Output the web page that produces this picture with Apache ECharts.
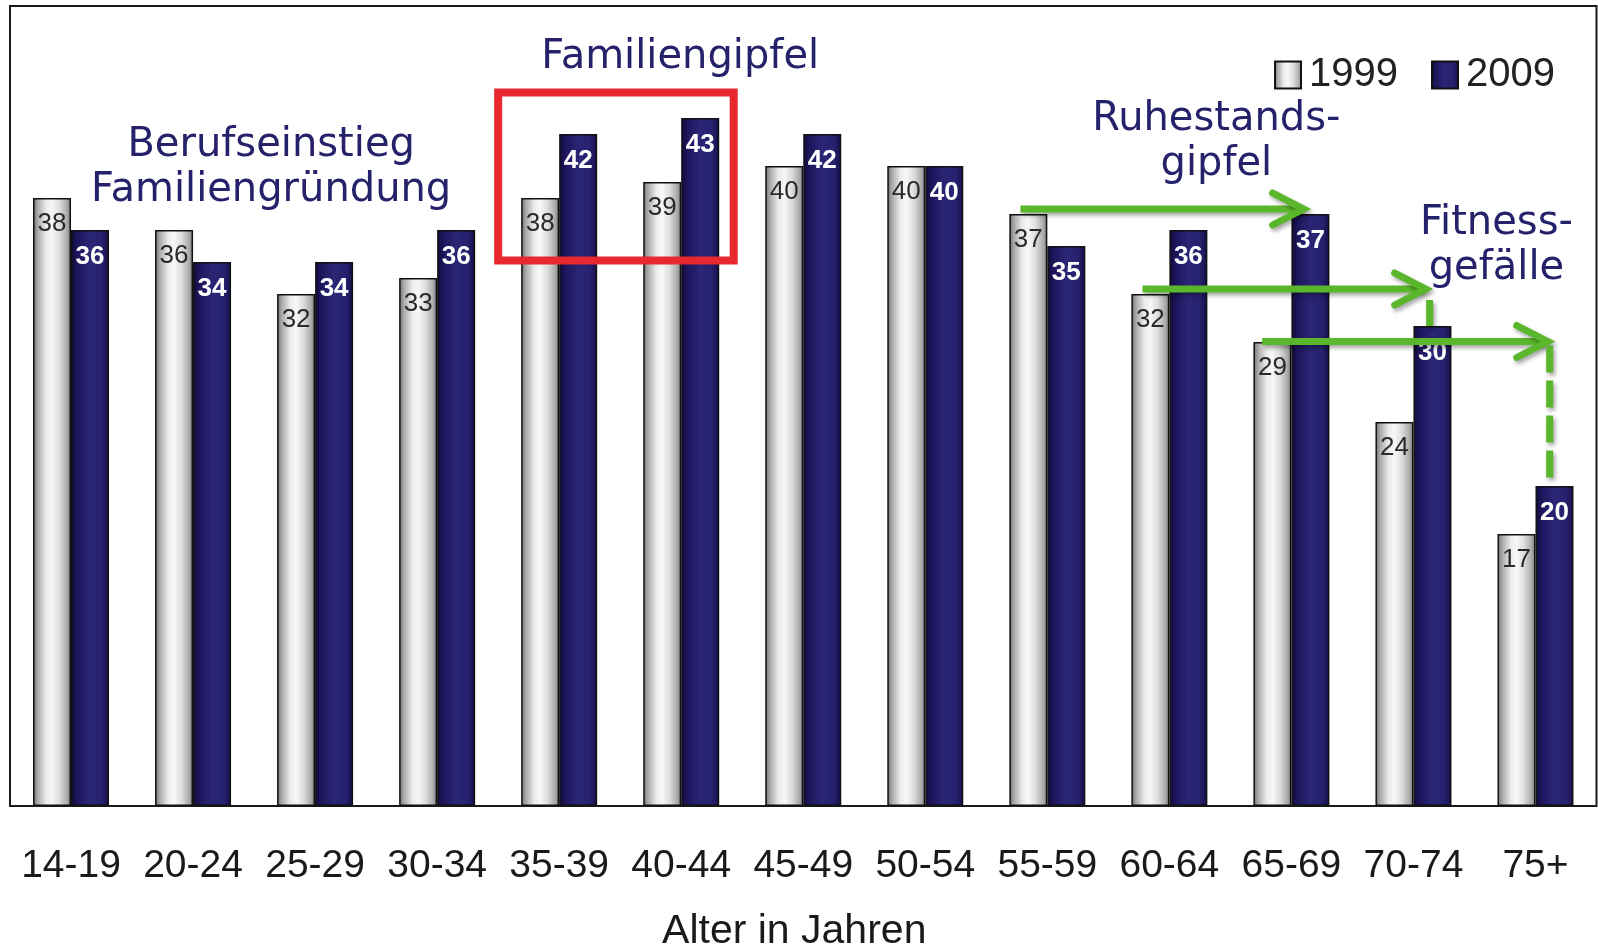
<!DOCTYPE html>
<html>
<head>
<meta charset="utf-8">
<script src="https://cdn.jsdelivr.net/npm/echarts@6/dist/echarts.min.js"></script>
<style>
html,body{margin:0;padding:0;background:#fff;}
#c{width:1598px;height:947px;}
</style>
</head>
<body>
<div id="c"></div>
<script>
const categories = ['14-19','20-24','25-29','30-34','35-39','40-44','45-49','50-54','55-59','60-64','65-69','70-74','75+'];
const values1999 = [38,36,32,33,38,39,40,40,37,32,29,24,17];
const values2009 = [36,34,34,36,42,43,42,40,35,36,37,30,20];
const seriesNames = ['1999','2009'];
const axisTitle = 'Alter in Jahren';
const noteTexts = {
  beruf: 'Berufseinstieg\nFamiliengründung',
  familie: 'Familiengipfel',
  ruhe: 'Ruhestands-\ngipfel',
  fitness: 'Fitness-\ngefälle'
};

const grayFill = {type:'linear',x:0,y:0,x2:1,y2:0,colorStops:[
  {offset:0,color:'#6e6e6e'},{offset:0.12,color:'#a8a8a8'},{offset:0.35,color:'#ececec'},
  {offset:0.5,color:'#f7f7f7'},{offset:0.7,color:'#dcdcdc'},{offset:0.9,color:'#a9a9a9'},{offset:1,color:'#7a7a7a'}]};
const blueFill = {type:'linear',x:0,y:0,x2:1,y2:0,colorStops:[
  {offset:0,color:'#120a40'},{offset:0.2,color:'#1f1860'},{offset:0.5,color:'#2a2575'},
  {offset:0.8,color:'#27226f'},{offset:1,color:'#150e4a'}]};

const chart = echarts.init(document.getElementById('c'), null, {renderer:'canvas'});
const FONT = '"Liberation Sans", Arial, sans-serif';
const NOTE_FONT = '"DejaVu Sans", sans-serif';
const NAVY = '#25216a';
const GREEN = '#5ab72b';

chart.setOption({
  animation:false,
  backgroundColor:'#fff',
  grid:{left:10,right:1.5,top:6,bottom:141,show:true,borderColor:'#1a1a1a',borderWidth:2,
        backgroundColor:'transparent',containLabel:false,outerBoundsMode:'none'},
  legend:{
    right:38, top:50, itemWidth:26, itemHeight:27, itemGap:33, icon:'rect',
    textStyle:{fontFamily:FONT,fontSize:40,color:'#222',padding:[0,0,0,3]},
    data:seriesNames
  },
  xAxis:{
    type:'category', data:categories,
    axisLine:{show:false}, axisTick:{show:false},
    axisLabel:{fontFamily:FONT,fontSize:39,color:'#1a1a1a',margin:41,interval:0},
    name:axisTitle, nameLocation:'middle', nameGap:105,
    nameTextStyle:{fontFamily:FONT,fontSize:41,color:'#1a1a1a',padding:[0,18,0,0]}
  },
  yAxis:{type:'value',min:0,max:50,show:false,splitLine:{show:false}},
  series:[
    {name:seriesNames[0],type:'bar',data:values1999,barWidth:38,barGap:'0%',
     itemStyle:{color:grayFill,borderColor:'#111',borderWidth:1.5},
     label:{show:true,position:'insideTop',distance:13,fontFamily:FONT,fontSize:26,color:'#2a2a2a'}},
    {name:seriesNames[1],type:'bar',data:values2009,barWidth:38,barGap:'0%',
     itemStyle:{color:blueFill,borderColor:'#111',borderWidth:1.5},
     label:{show:true,position:'insideTop',distance:14,fontFamily:FONT,fontSize:26,fontWeight:'bold',color:'#fff'}}
  ]
});

function P(ci, v){ return chart.convertToPixel({gridIndex:0},[ci, v]); }
const cw = P(1,0)[0]-P(0,0)[0];
const shadow = {shadowColor:'rgba(0,0,0,0.35)',shadowBlur:4,shadowOffsetX:2,shadowOffsetY:3};

function arrow(x0, x1, y){
  return [
    {type:'polyline',z:100,shape:{points:[[x0,y],[x1-2,y]]},
     style:Object.assign({stroke:GREEN,lineWidth:7,fill:null,lineCap:'butt'},shadow)},
    {type:'polyline',z:100,shape:{points:[[x1-31,y-16],[x1,y],[x1-31,y+16]]},
     style:Object.assign({stroke:GREEN,lineWidth:7,fill:null,lineCap:'round',lineJoin:'miter'},shadow)}
  ];
}
function dashed(x, y0, y1){
  return {type:'line',z:100,shape:{x1:x,y1:y0,x2:x,y2:y1},
    style:Object.assign({stroke:GREEN,lineWidth:7,lineDash:[27,8]},shadow)};
}
function note(text, x, y){
  return {type:'text',z:110,x:x,y:y+5,style:{text:text,fill:NAVY,font:'40px '+NOTE_FONT,
    align:'center',verticalAlign:'middle',lineHeight:45}};
}

const g = [];
const rl = P(4,0)[0]-0.5*cw, rr = P(5,0)[0]+0.43*cw, rt = P(0,44.6)[1], rb = P(0,34.1)[1];
g.push({type:'rect',z:90,shape:{x:rl,y:rt,width:rr-rl,height:rb-rt},style:{fill:null,stroke:'#e8282e',lineWidth:8}});
const a1y = P(0,37)[1]-5;
g.push(...arrow(P(8,0)[0]-0.22*cw, P(10,0)[0]+0.1*cw, a1y));
const a2y = P(0,32)[1]-5, a2x = P(11,0)[0]+0.1*cw;
g.push(...arrow(P(9,0)[0]-0.22*cw, a2x, a2y));
g.push(dashed(a2x+4, a2y+11, P(0,30)[1]));
const a3y = P(0,29)[1]-0.5, a3x = P(12,0)[0]+0.1*cw;
g.push(...arrow(P(10,0)[0]-0.24*cw, a3x, a3y));
g.push(dashed(a3x+2, a3y+4, P(0,20)[1]-8));
g.push(note(noteTexts.beruf, P(1,0)[0]+0.64*cw, P(0,40.2)[1]));
g.push(note(noteTexts.familie, P(5,0)[0]-1, P(0,47.06)[1]));
g.push(note(noteTexts.ruhe, P(9,0)[0]+0.385*cw, P(0,41.8)[1]));
g.push(note(noteTexts.fitness, P(11,0)[0]+0.68*cw, P(0,35.3)[1]));

chart.setOption({graphic:g});
</script>
</body>
</html>
